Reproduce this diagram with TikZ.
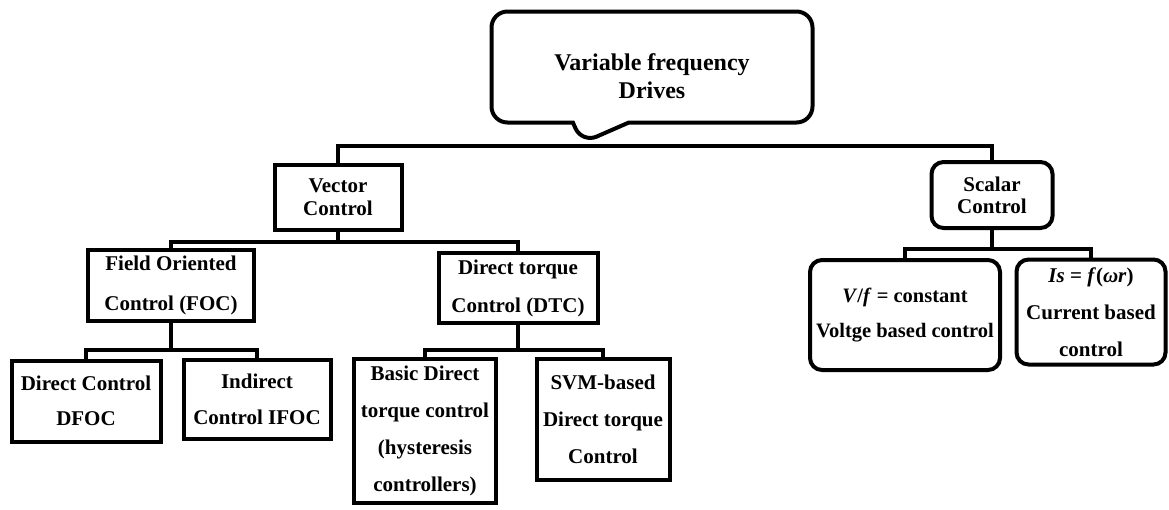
\documentclass[tikz,border=0pt]{standalone}
\usepackage{fontspec}
\setmainfont{Liberation Serif}
\usetikzlibrary{shapes.callouts,positioning}

\begin{document}
\begin{tikzpicture}[x=1pt, y=-1pt,
  box/.style={rectangle, draw, line width=4pt, inner sep=2pt, align=center,
              font=\bfseries\fontsize{21}{37}\selectfont},
  rbox/.style={box, rounded corners=12pt},
  link/.style={line width=4pt},
  title/.style={rectangle callout, draw, line width=4pt, rounded corners=16pt,
                align=center, font=\bfseries\fontsize{24}{28}\selectfont},
]
\useasboundingbox (0,0) rectangle (1169,509);

\node[title, minimum width=321, minimum height=111,
      callout absolute pointer={(582,143)}, callout pointer width=56pt] (vfd) at (652,67)
  {\rule{0pt}{36pt}Variable frequency\\Drives};

\node[box, minimum width=127, minimum height=65, font=\bfseries\fontsize{21}{23}\selectfont] (vc) at (338,197) {Vector\\Control};
\node[box, minimum width=166, minimum height=71, font=\bfseries\fontsize{21}{40}\selectfont] (foc) at (171,285) {Field Oriented\\Control (FOC)};
\node[box, minimum width=159, minimum height=70, font=\bfseries\fontsize{21}{38}\selectfont] (dtc) at (518,288) {Direct torque\\Control (DTC)};
\node[box, minimum width=149, minimum height=81, font=\bfseries\fontsize{21}{35}\selectfont] (dfoc) at (86,401) {Direct Control\\DFOC};
\node[box, minimum width=147, minimum height=79, font=\bfseries\fontsize{21}{36}\selectfont] (ifoc) at (257,399) {Indirect\\Control IFOC};
\node[box, minimum width=142, minimum height=144] (basic) at (425,431) {Basic Direct\\torque control\\(hysteresis\\controllers)};
\node[box, minimum width=133, minimum height=121] (svm) at (603,419) {SVM-based\\Direct torque\\Control};

\node[rbox, minimum width=121, minimum height=66, font=\bfseries\fontsize{21}{22}\selectfont] (sc) at (992,195) {Scalar\\Control};
\node[rbox, minimum width=190, minimum height=110, font=\bfseries\fontsize{20.5}{35}\selectfont] (vf) at (905,315) {\textit{V}/\textit{f} = constant\\Voltge based control};
\node[rbox, minimum width=149, minimum height=105] (is) at (1091,312) {\textit{Is} = \textit{f}(\textit{ωr})\\Current based\\control};

\draw[link] (vc.north) |- (vfd.pointer) -| (sc.north);

\draw[link] (vc.south) -- ++(0,10) -| (foc.north);
\draw[link] (vc.south) -- ++(0,10) -| (dtc.north);

\draw[link] (foc.south) -- ++(0,27) -| (dfoc.north);
\draw[link] (foc.south) -- ++(0,27) -| (ifoc.north);

\draw[link] (dtc.south) -- ++(0,25) -| (basic.north);
\draw[link] (dtc.south) -- ++(0,25) -| (svm.north);

\draw[link] (sc.south) -- ++(0,19) -| (vf.north);
\draw[link] (sc.south) -- ++(0,19) -| (is.north);

\end{tikzpicture}
\end{document}
